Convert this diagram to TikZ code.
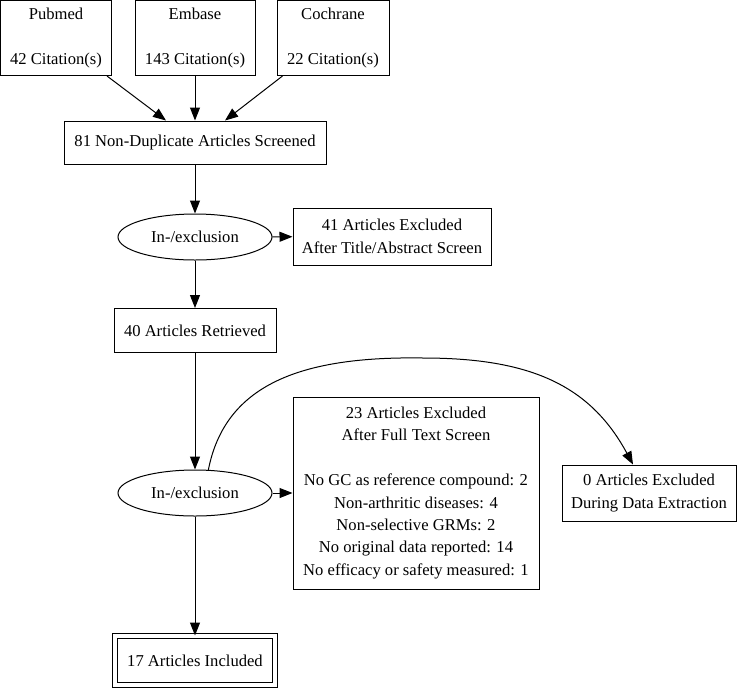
\documentclass[tikz,border=0pt]{standalone}
\usepackage{fontspec}
\setmainfont{Liberation Serif}
\usetikzlibrary{arrows.meta,shapes.geometric}
\tikzset{
  every node/.style={font=\fontsize{16.6}{22.4}\selectfont, align=center, inner sep=0pt},
  boxnode/.style={draw, line width=1pt, rectangle},
  ellnode/.style={draw, line width=1pt, ellipse, minimum width=154pt, minimum height=46pt},
  conn/.style={line width=1pt, -{Triangle[length=13pt,width=10pt]}},
}
\begin{document}
\begin{tikzpicture}[x=1pt,y=-1pt]
\useasboundingbox (0,0) rectangle (739,689);
% sources
\node[boxnode, minimum width=111pt, minimum height=75pt] (pub) at (56,38) {Pubmed\\[22.4pt]42 Citation(s)};
\node[boxnode, minimum width=120pt, minimum height=75pt] (emb) at (195,38) {Embase\\[22.4pt]143 Citation(s)};
\node[boxnode, minimum width=112pt, minimum height=75pt] (coc) at (333,38) {Cochrane\\[22.4pt]22 Citation(s)};
% screened
\node[boxnode, minimum width=262pt, minimum height=43pt] (scr) at (195,142.5) {81 Non-Duplicate Articles Screened};
\node[ellnode] (inc1) at (195,237) {In-/exclusion};
\node[boxnode, minimum width=198pt, minimum height=57pt] (exc1) at (392,236.5) {41 Articles Excluded\\After Title/Abstract Screen};
\node[boxnode, minimum width=162pt, minimum height=44pt] (ret) at (195,330.5) {40 Articles Retrieved};
\node[ellnode] (inc2) at (195,493) {In-/exclusion};
\node[boxnode, minimum width=246pt, minimum height=192pt] (exc2) at (416,493) {23 Articles Excluded\\After Full Text Screen\\[22.4pt]No GC as reference compound: 2\\Non-arthritic diseases: 4\\Non-selective GRMs: 2\\No original data reported: 14\\No efficacy or safety measured: 1};
\node[boxnode, minimum width=174pt, minimum height=56pt] (exc3) at (649,493) {0 Articles Excluded\\During Data Extraction};
\node[draw, line width=1pt, double, double distance=4pt, rectangle, minimum width=160pt, minimum height=49pt] (fin) at (195,660.5) {17 Articles Included};
% connectors
\draw[conn] ([xshift=-5pt]pub.south east) -- ([xshift=-29pt]scr.north);
\draw[conn] (emb) -- (scr);
\draw[conn] ([xshift=6pt]coc.south west) -- ([xshift=30pt]scr.north);
\draw[conn] (scr) -- (inc1);
\draw[conn] (inc1) -- (exc1);
\draw[conn] (inc1) -- (ret);
\draw[conn] (ret) -- (inc2);
\draw[conn] (inc2) -- (exc2);
\draw[conn] (inc2) -- (fin);
\coordinate (peak) at (423,358);
\coordinate (endp) at ([xshift=-16pt]exc3.north);
\draw[conn] (inc2.60) .. controls (225,385) and (300,356) .. (peak)
  .. controls (530,358) and (590,385) .. (endp);
\end{tikzpicture}
\end{document}
